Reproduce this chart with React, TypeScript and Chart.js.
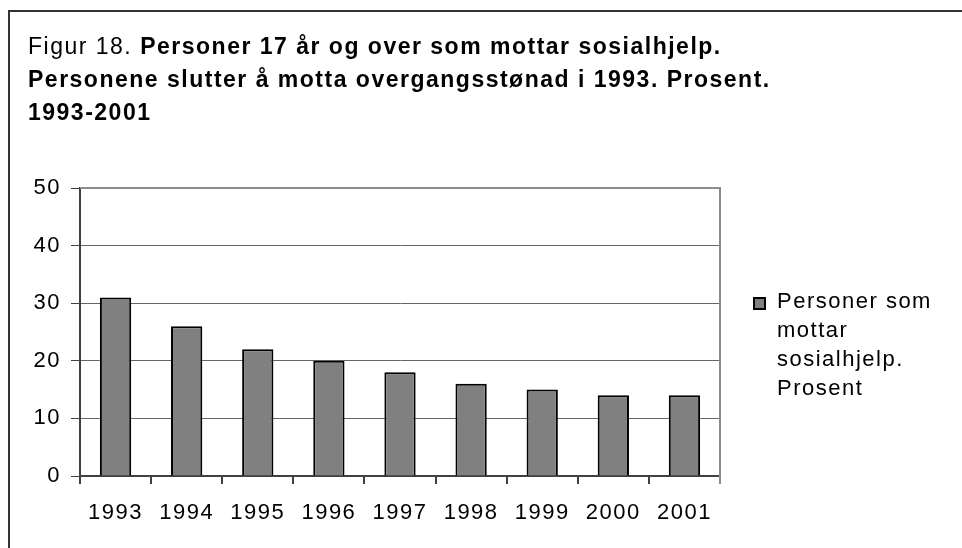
import React, { useEffect, useRef } from 'react';
import { Chart, registerables } from 'chart.js';

Chart.register(...registerables);

const categories = ['1993', '1994', '1995', '1996', '1997', '1998', '1999', '2000', '2001'];
const values = [31, 26, 22, 20, 18, 16, 15, 14, 14];
const yMin = 0;
const yMax = 50;
const yStep = 10;
const seriesLabel = 'Personer som mottar sosialhjelp. Prosent';
const legendLines = ['Personer som', 'mottar', 'sosialhjelp.', 'Prosent'];
const titleLine1Normal = 'Figur 18. ';
const titleLine1Bold = 'Personer 17 år og over som mottar sosialhjelp.';
const titleLine2 = 'Personene slutter å motta overgangsstønad i 1993. Prosent.';
const titleLine3 = '1993-2001';

const FONT = '"Liberation Sans", Arial, sans-serif';

const framePlugin = {
  id: 'frame',
  beforeDraw(chart: any) {
    const ctx = chart.ctx;
    ctx.save();
    ctx.fillStyle = '#ffffff';
    ctx.fillRect(0, 0, chart.width, chart.height);
    ctx.strokeStyle = '#333333';
    ctx.lineWidth = 2;
    ctx.beginPath();
    ctx.moveTo(9, chart.height);
    ctx.lineTo(9, 11);
    ctx.lineTo(chart.width, 11);
    ctx.stroke();
    ctx.restore();
    (ctx as any).letterSpacing = '1.5px';
  },
  beforeDatasetsDraw(chart: any) {
    const ctx = chart.ctx;
    const a = chart.chartArea;
    ctx.save();
    ctx.strokeStyle = '#8c8c8c';
    ctx.lineWidth = 2;
    ctx.beginPath();
    ctx.moveTo(a.left, a.top);
    ctx.lineTo(a.right, a.top);
    ctx.lineTo(a.right, a.bottom + 8);
    ctx.stroke();
    ctx.restore();
  },
  afterDraw(chart: any) {
    const ctx = chart.ctx;
    ctx.save();
    (ctx as any).letterSpacing = '1.5px';
    ctx.fillStyle = '#000000';
    ctx.textBaseline = 'alphabetic';
    ctx.textAlign = 'left';
    // title
    const tx = 28;
    ctx.font = `23px ${FONT}`;
    ctx.fillText(titleLine1Normal, tx, 54);
    const w = ctx.measureText(titleLine1Normal).width;
    ctx.font = `bold 23px ${FONT}`;
    ctx.fillText(titleLine1Bold, tx + w, 54);
    ctx.fillText(titleLine2, tx, 87);
    ctx.fillText(titleLine3, tx, 120);
    // legend
    const ds = chart.data.datasets[0];
    ctx.fillStyle = ds.backgroundColor;
    ctx.fillRect(754, 298, 11, 11);
    ctx.strokeStyle = '#000000';
    ctx.lineWidth = 2;
    ctx.strokeRect(754, 298, 11, 11);
    ctx.fillStyle = '#000000';
    ctx.font = `22px ${FONT}`;
    legendLines.forEach((line, i) => {
      ctx.fillText(line, 777, 308 + i * 29);
    });
    ctx.restore();
  },
};

export default function App() {
  const ref = useRef<HTMLCanvasElement | null>(null);
  useEffect(() => {
    document.body.style.margin = '0';
    const canvas = ref.current!;
    const chart = new Chart(canvas, {
      type: 'bar',
      data: {
        labels: categories,
        datasets: [
          {
            label: seriesLabel,
            data: values,
            backgroundColor: '#808080',
            borderColor: '#000000',
            borderWidth: 2,
            categoryPercentage: 1,
            barPercentage: 0.44,
          },
        ],
      },
      options: {
        responsive: false,
        animation: false,
        devicePixelRatio: 1,
        layout: { padding: { left: 0, top: 188, right: 242, bottom: 0 } },
        plugins: {
          legend: { display: false },
          title: { display: false },
          tooltip: { enabled: false },
        },
        scales: {
          x: {
            afterFit: (s: any) => {
              s.height = 72;
            },
            grid: {
              offset: true,
              drawOnChartArea: false,
              tickLength: 8,
              tickColor: '#404040',
              lineWidth: 2,
            },
            border: { color: '#404040', width: 2 },
            ticks: {
              color: '#000000',
              font: { family: FONT, size: 22 },
              padding: 16,
              maxRotation: 0,
              autoSkip: false,
            },
          },
          y: {
            min: yMin,
            max: yMax,
            afterFit: (s: any) => {
              s.width = 80;
            },
            grid: {
              color: '#666666',
              lineWidth: 1,
              tickLength: 9,
              tickColor: '#404040',
            },
            border: { color: '#404040', width: 2 },
            ticks: {
              stepSize: yStep,
              color: '#000000',
              font: { family: FONT, size: 22 },
              padding: 10,
            },
          },
        },
      },
      plugins: [framePlugin],
    });
    return () => chart.destroy();
  }, []);
  return (
    <div style={{ position: 'absolute', left: 0, top: 0, width: 962, height: 548 }}>
      <canvas ref={ref} width={962} height={548} style={{ display: 'block' }} />
    </div>
  );
}
